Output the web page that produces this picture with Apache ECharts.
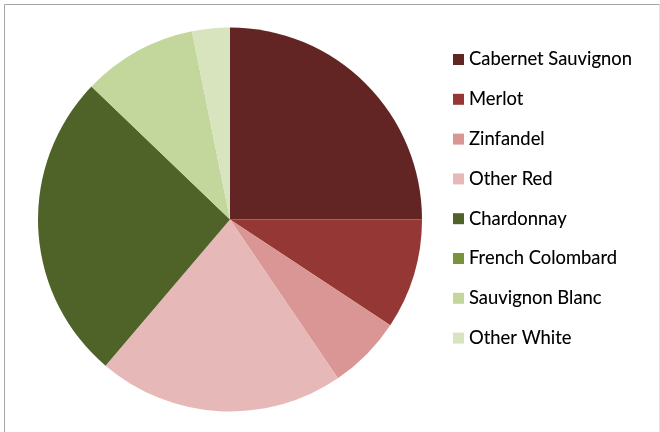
<!DOCTYPE html>
<html>
<head>
<meta charset="utf-8">
<script src="https://cdn.jsdelivr.net/npm/echarts@6/dist/echarts.min.js"></script>
<style>
html,body{margin:0;padding:0;background:#fff;}
#c{width:660px;height:432px;}
</style>
</head>
<body>
<div id="c"></div>
<script>
const categories = ["Cabernet Sauvignon","Merlot","Zinfandel","Other Red","Chardonnay","French Colombard","Sauvignon Blanc","Other White"];
const values = [25.0, 9.28, 6.22, 20.72, 25.94, 0, 9.65, 3.18];
const colors = ["#632523","#953735","#D99694","#E6B9B8","#4F6228","#77933C","#C3D69B","#D7E4BD"];

const chart = echarts.init(document.getElementById('c'), null, {renderer:'canvas'});
chart.setOption({
  animation:false,
  backgroundColor:'#fff',
  color: colors,
  graphic:[
    {type:'polyline', silent:true, z:-1,
     shape:{points:[[4.5,432],[4.5,4.5],[659.5,4.5]]},
     style:{fill:'none', stroke:'#a6a6a6', lineWidth:1}},
    {type:'line', silent:true, z:-1,
     shape:{x1:659.5, y1:5, x2:659.5, y2:432},
     style:{stroke:'#e4e4e4', lineWidth:1}}
  ],
  legend:{
    orient:'vertical',
    left:448, top:44.5,
    padding:5,
    itemWidth:11, itemHeight:11,
    itemGap:19.8,
    icon:'rect',
    selectedMode:false,
    data: categories,
    textStyle:{fontFamily:'Lato', fontSize:18.4, lineHeight:20, color:'#000', textShadowColor:'rgba(0,0,0,0.35)', textShadowBlur:0.6}
  },
  series:[{
    type:'pie',
    center:[230,219.5],
    radius:[0,192],
    startAngle:90,
    clockwise:true,
    label:{show:false},
    labelLine:{show:false},
    silent:true,
    emphasis:{disabled:true},
    itemStyle:{borderWidth:0},
    data: categories.map((n,i)=>({name:n, value:values[i]}))
  }]
});
</script>
</body>
</html>
